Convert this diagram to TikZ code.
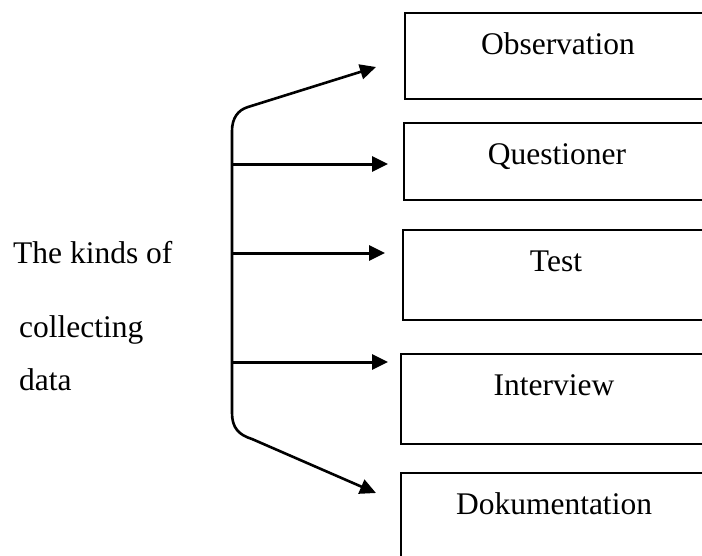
\documentclass[tikz,border=0pt]{standalone}
\usepackage{fontspec}
\setmainfont{Liberation Serif}
\usetikzlibrary{arrows.meta}
\begin{document}
\begin{tikzpicture}[x=1pt,y=-1pt,
  box/.style={draw, line width=2pt, rectangle, inner xsep=0pt, inner ysep=0pt,
    text width=306pt, align=center, text height=41pt, anchor=north west,
    font=\fontsize{31.5}{36}\selectfont},
  lbl/.style={anchor=base west, inner sep=0pt, font=\fontsize{31.5}{36}\selectfont},
  arr/.style={line width=3pt, -{Triangle[length=16pt,width=15pt]}},
  brace/.style={line width=2.6pt, {Triangle[length=16pt,width=15pt]}-{Triangle[length=16pt,width=15pt]}},
]
\clip (0,0) rectangle (702,555);
% boxes
\node[box, text depth=45pt] (obs) at (404,12) {Observation};
\node[box, text depth=36pt] (que) at (403,122) {Questioner};
\node[box, text depth=49pt] (tes) at (402,229) {Test};
\node[box, text depth=49pt] (int) at (400,353) {Interview};
\node[box, text depth=100pt] (dok) at (400,472) {Dokumentation};
% left text
\node[lbl] (k1) at (13,263) {The kinds of};
\node[lbl] (k2) at (19,337) {collecting};
\node[lbl] (k3) at (19,390) {data};
% bracket
\coordinate (vt) at (232,131);
\coordinate (vb) at (232,413);
\coordinate (ct) at (248,107);
\coordinate (cb) at (252,439);
\coordinate (t1) at (376,67);
\coordinate (t5) at (376,493);
\draw[brace] (t1) -- (ct) .. controls (238,110) and (232,118) .. (vt) -- (vb)
  .. controls (232,428) and (239,435) .. (cb) -- (t5);
% horizontal arrows
\coordinate (h2) at (232,164); \coordinate (e2) at (388,164);
\coordinate (h3) at (232,253); \coordinate (e3) at (385,253);
\coordinate (h4) at (232,362); \coordinate (e4) at (388,362);
\draw[arr] (h2) -- (e2);
\draw[arr] (h3) -- (e3);
\draw[arr] (h4) -- (e4);
\end{tikzpicture}
\end{document}
